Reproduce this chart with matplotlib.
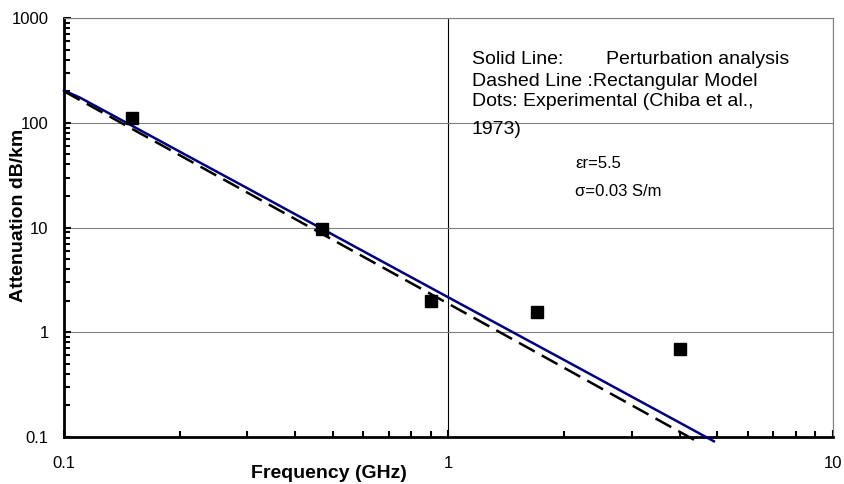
import matplotlib
matplotlib.use("Agg")
import matplotlib.pyplot as plt
from matplotlib.ticker import LogLocator, NullFormatter, FuncFormatter

plt.rcParams['font.family'] = ['Liberation Sans', 'DejaVu Sans']

# perturbation analysis (solid line)
freq_solid = [0.1, 0.11, 0.15, 0.2, 0.3, 0.5, 1.0, 2.0, 3.0, 4.0, 4.9]
att_solid = [203, 174, 94, 53, 23.7, 8.55, 2.15, 0.543, 0.242, 0.1365, 0.091]

# rectangular model (dashed line)
freq_dashed = [0.1, 0.2, 0.5, 1.0, 2.0, 4.4]
att_dashed = [200, 49.0, 7.63, 1.87, 0.457, 0.092]

# experimental points (Chiba et al., 1973)
freq_exp = [0.15, 0.47, 0.9, 1.7, 4.0]
att_exp = [112, 9.7, 2.0, 1.56, 0.69]

fig = plt.figure(figsize=(8.45, 4.84), dpi=100)
ax = fig.add_axes([0.0757, 0.0971, 0.9101, 0.8657])

ax.plot(freq_solid, att_solid, color='#000080', lw=1.8, clip_on=False, zorder=3)
ax.plot(freq_dashed, att_dashed, color='black', lw=1.8, dashes=(7.2, 3.2),
        clip_on=False, zorder=3)
ax.plot(freq_exp, att_exp, 's', color='black', ms=8, zorder=4)

ax.set_xscale('log')
ax.set_yscale('log')
ax.set_xlim(0.1, 10)
ax.set_ylim(0.1, 1000)

fmt = FuncFormatter(lambda v, p: '%g' % v)
ax.xaxis.set_major_formatter(fmt)
ax.yaxis.set_major_formatter(fmt)
ax.xaxis.set_minor_locator(LogLocator(base=10, subs=range(2, 10)))
ax.yaxis.set_minor_locator(LogLocator(base=10, subs=range(2, 10)))
ax.xaxis.set_minor_formatter(NullFormatter())
ax.yaxis.set_minor_formatter(NullFormatter())

ax.tick_params(axis='both', which='both', direction='in', width=1.5,
               labelsize=12, colors='black')
ax.tick_params(axis='both', which='major', length=5)
ax.tick_params(axis='both', which='minor', length=4.5)
ax.tick_params(axis='y', which='major', pad=11)
ax.tick_params(axis='x', which='major', pad=14)

ax.yaxis.grid(True, which='major', color='#808080', lw=0.8)
ax.xaxis.grid(True, which='major', color='black', lw=0.8)
ax.set_axisbelow(True)

for s in ['left', 'bottom']:
    ax.spines[s].set_linewidth(2)
    ax.spines[s].set_color('black')
for s in ['top', 'right']:
    ax.spines[s].set_linewidth(0.8)
    ax.spines[s].set_color('#808080')

fig.text(329 / 845, 1 - 473 / 484, 'Frequency (GHz)', fontsize=14,
         fontweight='bold', ha='center', va='center')
fig.text(19 / 845, 1 - 215 / 484, 'Attenuation dB/km', fontsize=14,
         fontweight='bold', ha='center', va='center', rotation=90)

# legend text block
def ftext(x, y, s, size=14):
    fig.text(x / 845, 1 - y / 484, s, fontsize=size, ha='left', va='center')

ftext(472, 59, 'Solid Line:')
ftext(606, 59, 'Perturbation analysis')
ftext(472, 81, 'Dashed Line :Rectangular Model')
ftext(472, 102, 'Dots: Experimental (Chiba et al.,')
ftext(472, 129, '1973)')
ftext(575, 164, '\u03b5r=5.5', size=12)
ftext(575, 191, '\u03c3=0.03 S/m', size=12)

fig.savefig('out.png', dpi=100)
